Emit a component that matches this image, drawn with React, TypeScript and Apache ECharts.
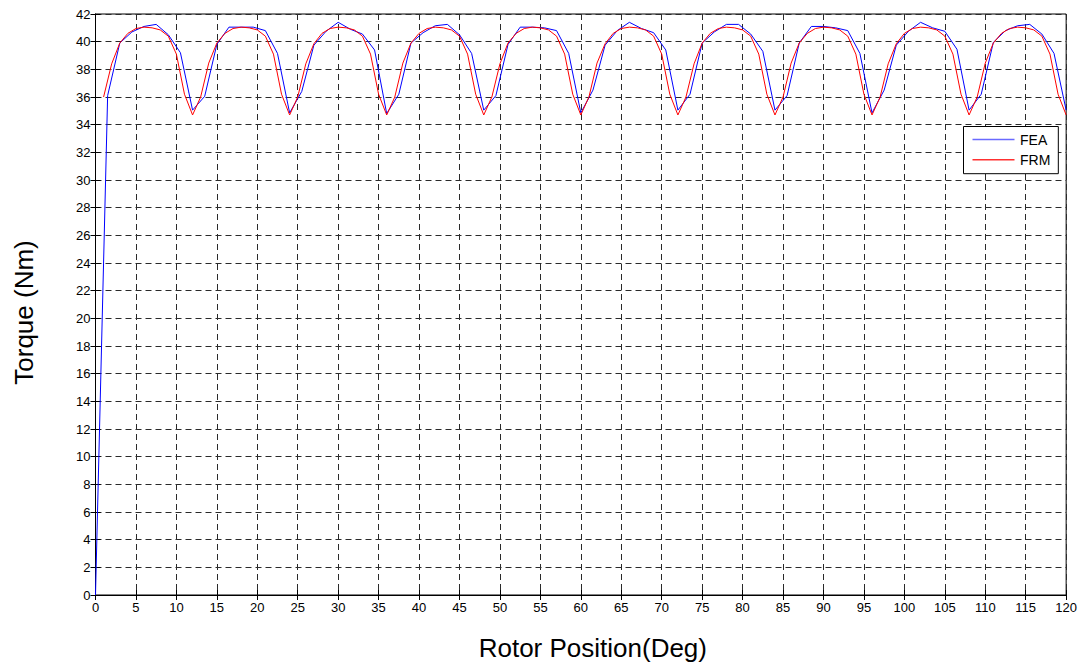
import React, { useEffect, useRef } from "react";
import * as echarts from "echarts";

const feaX = [
  0, 1.5, 3, 4.5, 6, 7.5, 9, 10.5, 12, 13.5, 15, 16.5, 18, 19.5, 21, 22.5, 24,
  25.5, 27, 28.5, 30, 31.5, 33, 34.5, 36, 37.5, 39, 40.5, 42, 43.5, 45, 46.5, 48,
  49.5, 51, 52.5, 54, 55.5, 57, 58.5, 60, 61.5, 63, 64.5, 66, 67.5, 69, 70.5, 72,
  73.5, 75, 76.5, 78, 79.5, 81, 82.5, 84, 85.5, 87, 88.5, 90, 91.5, 93, 94.5, 96,
  97.5, 99, 100.5, 102, 103.5, 105, 106.5, 108, 109.5, 111, 112.5, 114, 115.5, 117, 118.5, 120,
];
const feaY = [
  0, 36.1, 39.9, 40.7, 41.1, 41.25, 40.5, 39.2, 35.05,
  36.05, 39.8, 41.05, 41.05, 41.05, 40.8, 39.15, 34.85,
  36.4, 39.75, 40.75, 41.4, 40.9, 40.55, 39.4, 34.8,
  36.2, 39.9, 40.65, 41.15, 41.25, 40.5, 39.15, 35.05,
  36.1, 39.8, 41.05, 41.05, 41.0, 40.8, 39.15, 34.85,
  36.5, 39.75, 40.8, 41.4, 40.95, 40.65, 39.4, 35.05,
  36.2, 39.9, 40.7, 41.25, 41.25, 40.55, 39.3, 35.05,
  36.1, 39.9, 41.1, 41.1, 41.0, 40.8, 39.15, 34.85,
  36.5, 39.75, 40.75, 41.4, 41.0, 40.75, 39.45, 35.05,
  36.2, 39.95, 40.8, 41.15, 41.25, 40.55, 39.15, 35.05,
];

const frmX = [
  1, 2, 3, 4, 5, 6, 7, 8, 9, 10, 11, 12,
  13, 14, 15, 16, 17, 18, 19, 20, 21, 22, 23, 24,
  25, 26, 27, 28, 29, 30, 31, 32, 33, 34, 35, 36,
  37, 38, 39, 40, 41, 42, 43, 44, 45, 46, 47, 48,
  49, 50, 51, 52, 53, 54, 55, 56, 57, 58, 59, 60,
  61, 62, 63, 64, 65, 66, 67, 68, 69, 70, 71, 72,
  73, 74, 75, 76, 77, 78, 79, 80, 81, 82, 83, 84,
  85, 86, 87, 88, 89, 90, 91, 92, 93, 94, 95, 96,
  97, 98, 99, 100, 101, 102, 103, 104, 105, 106, 107, 108,
  109, 110, 111, 112, 113, 114, 115, 116, 117, 118, 119, 120,
];
const frmY = [
  36.0, 38.4, 39.9, 40.6, 40.95, 41.05, 41.0, 40.85, 40.4, 39.1, 36.2, 34.7,
  36.0, 38.45, 39.9, 40.6, 40.95, 41.05, 41.0, 40.85, 40.4, 39.1, 36.2, 34.7,
  36.0, 38.4, 39.85, 40.6, 40.95, 41.05, 41.0, 40.85, 40.4, 39.1, 36.2, 34.7,
  36.0, 38.45, 39.9, 40.6, 40.95, 41.05, 41.0, 40.85, 40.4, 39.1, 36.2, 34.7,
  36.0, 38.4, 39.9, 40.6, 40.95, 41.05, 41.0, 40.85, 40.4, 39.1, 36.2, 34.7,
  36.0, 38.45, 39.85, 40.6, 40.95, 41.05, 41.0, 40.85, 40.4, 39.1, 36.2, 34.7,
  36.0, 38.4, 39.9, 40.6, 40.95, 41.05, 41.0, 40.85, 40.4, 39.1, 36.2, 34.7,
  36.0, 38.45, 39.9, 40.6, 40.95, 41.05, 41.0, 40.85, 40.4, 39.1, 36.2, 34.7,
  36.0, 38.4, 39.85, 40.6, 40.95, 41.05, 41.0, 40.85, 40.4, 39.1, 36.2, 34.7,
  36.0, 38.45, 39.9, 40.6, 40.95, 41.05, 41.0, 40.85, 40.4, 39.1, 36.2, 34.7,
];

const seriesNames = ["FEA", "FRM"];
const seriesColors = ["#0000ff", "#ff0000"];
const legendColors = ["#6a6aff", "#ff3030"];
const xAxisName = "Rotor Position(Deg)";
const yAxisName = "Torque (Nm)";

const FONT = "'Liberation Sans', Arial, sans-serif";

export default function App() {
  const ref = useRef<HTMLDivElement>(null);
  useEffect(() => {
    if (!ref.current) return;
    const chart = echarts.init(ref.current, undefined, { renderer: "svg" });
    const feaData = feaX.map((x, i) => [x, feaY[i]]);
    const frmData = frmX.map((x, i) => [x, frmY[i]]);
    const splitLine = {
      show: true,
      lineStyle: { color: "#2a2a2a", width: 1, type: [6, 4] as any },
    };
    const axisLine = { show: true, lineStyle: { color: "#000", width: 1 } };
    const tick = { show: true, inside: true, length: 5, lineStyle: { color: "#000" } };
    chart.setOption({
      animation: false,
      backgroundColor: "#fff",
      textStyle: { fontFamily: FONT },
      grid: {
        left: 95.5,
        top: 14,
        width: 971.5,
        height: 582,
        show: true,
        borderColor: "#000",
        borderWidth: 1,
        backgroundColor: "#fff",
      },
      legend: {
        orient: "vertical",
        left: 963.5,
        top: 126.5,
        data: seriesNames.map((n, i) => ({
          name: n,
          itemStyle: { color: legendColors[i], borderWidth: 0 },
        })),
        icon: "path://M0,0L42,0L42,1.4L0,1.4Z",
        backgroundColor: "#fff",
        borderColor: "#000",
        borderWidth: 1,
        borderRadius: 0,
        padding: [6, 8, 7, 9],
        itemWidth: 43,
        itemHeight: 1.4,
        itemGap: 6.2,
        itemStyle: { borderWidth: 0 },
        textStyle: { color: "#000", fontSize: 14, fontFamily: FONT },
      },
      xAxis: [
        {
          type: "value",
          min: 0,
          max: 120,
          interval: 5,
          name: xAxisName,
          nameLocation: "middle",
          nameGap: 40,
          nameTextStyle: { color: "#000", fontSize: 26, fontFamily: FONT, padding: [0, 0, 0, 24] },
          axisLine,
          axisTick: tick,
          axisLabel: { color: "#000", fontSize: 13, margin: 6, fontFamily: FONT },
          splitLine,
        },
        {
          type: "value",
          position: "top",
          min: 0,
          max: 120,
          interval: 5,
          axisLine,
          axisTick: tick,
          axisLabel: { show: false },
          splitLine: { show: false },
        },
      ],
      yAxis: [
        {
          type: "value",
          min: 0,
          max: 42,
          interval: 2,
          name: yAxisName,
          nameLocation: "middle",
          nameGap: 59,
          nameTextStyle: { color: "#000", fontSize: 26, fontFamily: FONT, padding: [0, 16, 0, 0] },
          axisLine,
          axisTick: tick,
          axisLabel: { color: "#000", fontSize: 13, margin: 5, fontFamily: FONT },
          splitLine,
        },
        {
          type: "value",
          position: "right",
          min: 0,
          max: 42,
          interval: 2,
          axisLine,
          axisTick: tick,
          axisLabel: { show: false },
          splitLine: { show: false },
        },
      ],
      series: [
        {
          name: seriesNames[0],
          type: "line",
          data: feaData,
          symbol: "none",
          lineStyle: { color: seriesColors[0], width: 1 },
          itemStyle: { color: seriesColors[0] },
        },
        {
          name: seriesNames[1],
          type: "line",
          data: frmData,
          symbol: "none",
          lineStyle: { color: seriesColors[1], width: 1 },
          itemStyle: { color: seriesColors[1] },
        },
      ],
    });
    return () => chart.dispose();
  }, []);
  return (
    <div
      ref={ref}
      style={{ position: "absolute", left: 0, top: 0, width: 1080, height: 666 }}
    />
  );
}
